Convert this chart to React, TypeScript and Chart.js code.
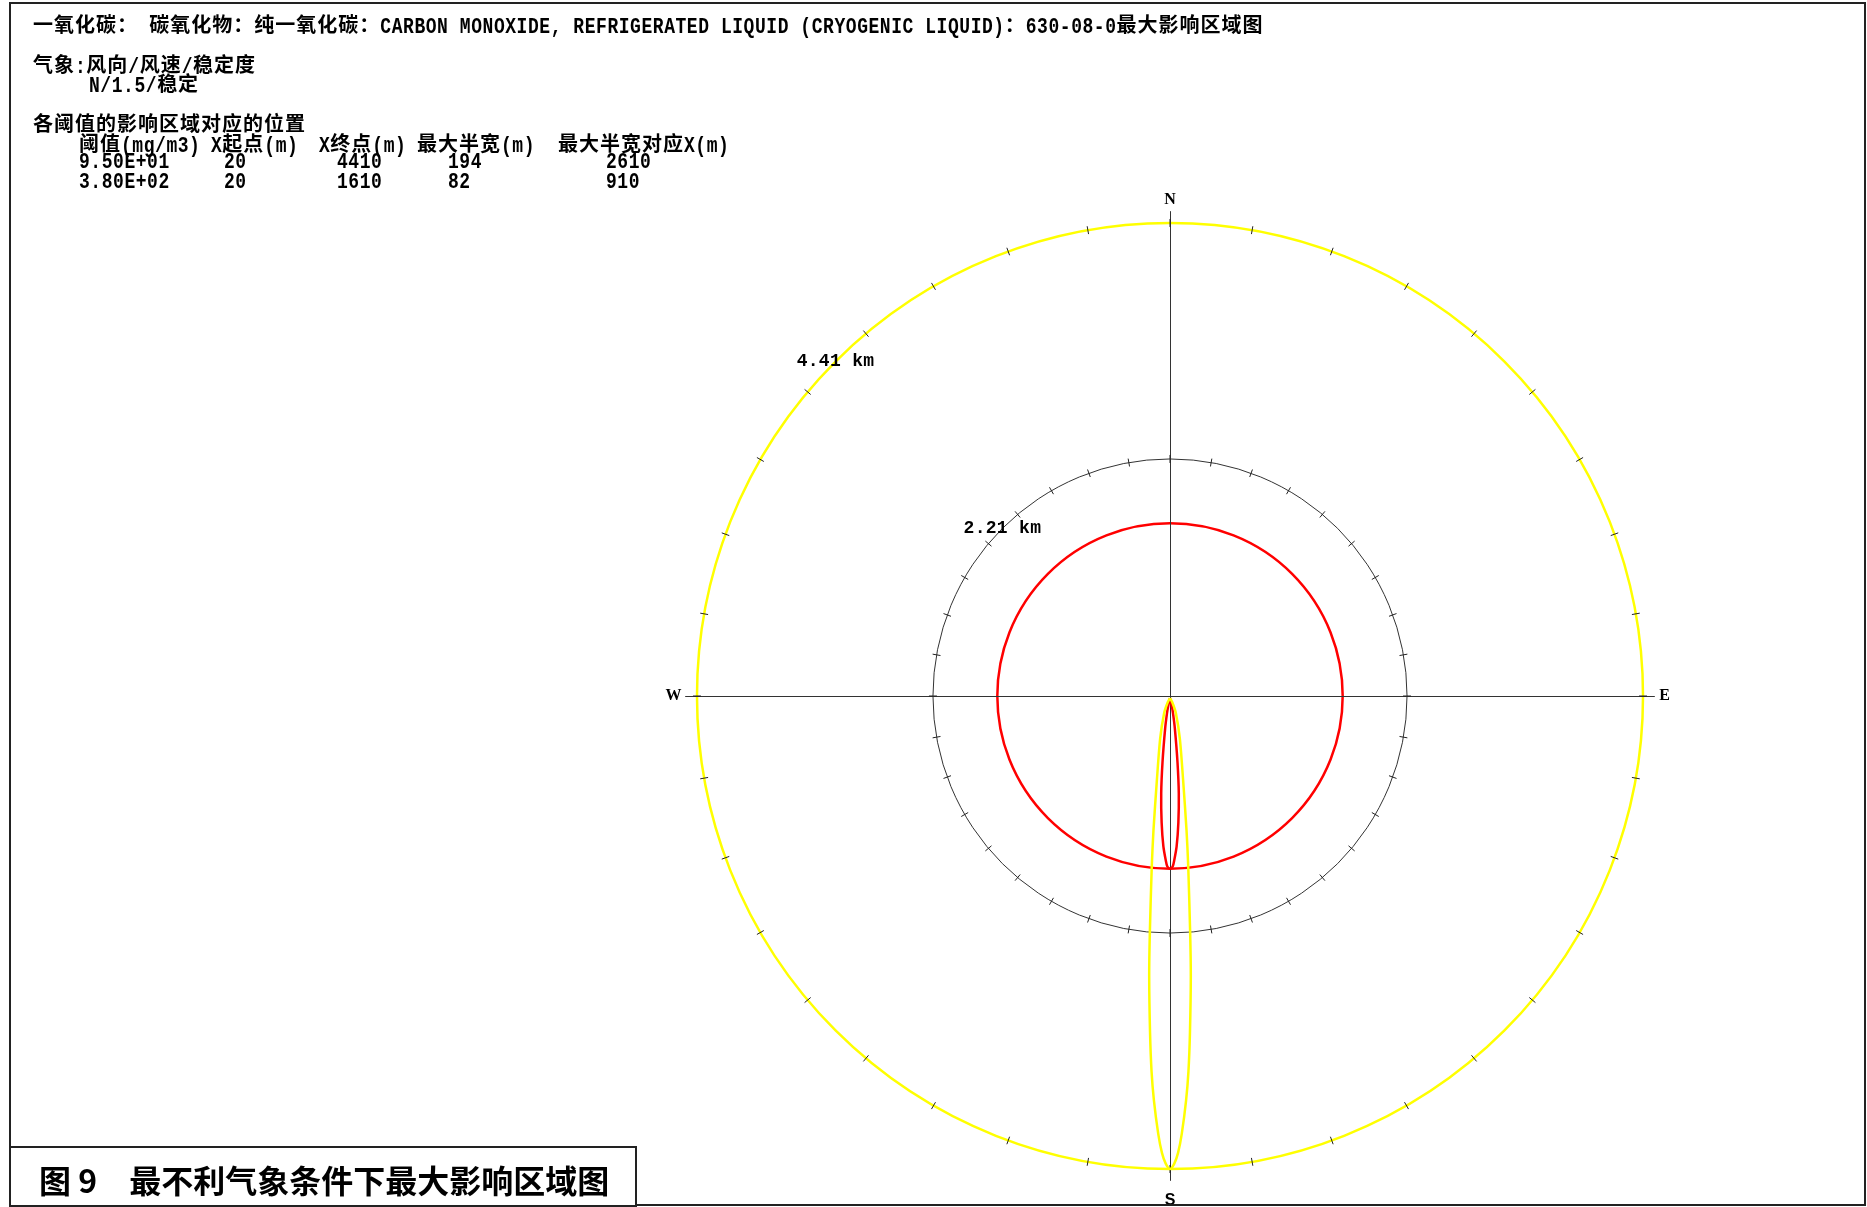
import React, { useEffect, useRef } from 'react';
import { Chart, registerables } from 'chart.js';

Chart.register(...registerables);

// ---------------- data ----------------
const TITLE =
  '一氧化碳： 碳氧化物：纯一氧化碳：CARBON MONOXIDE, REFRIGERATED LIQUID (CRYOGENIC LIQUID)：630-08-0最大影响区域图';
const WEATHER_HEADER = '气象:风向/风速/稳定度';
const WEATHER_VALUE = 'N/1.5/稳定';
const TABLE_TITLE = '各阈值的影响区域对应的位置';
const TABLE_HEADERS = ['阈值(mg/m3)', 'X起点(m)', 'X终点(m)', '最大半宽(m)', '最大半宽对应X(m)'];
const THRESHOLDS = ['9.50E+01', '3.80E+02'];
const X_START_M = [20, 20];
const X_END_M = [4410, 1610];
const MAX_HALF_WIDTH_M = [194, 82];
const MAX_HALF_WIDTH_X_M = [2610, 910];
const CAPTION = '图 9　最不利气象条件下最大影响区域图';

const RING_RADII_KM = [4.41, 2.21];
const RING_LABELS = ['4.41 km', '2.21 km'];
const RED_CIRCLE_KM = [1.61];
const COMPASS_LABELS = ['N', 'E', 'S', 'W'];
const COMPASS_BEARINGS = [0, 90, 180, 270];
const TICK_BEARINGS = [
  0, 10, 20, 30, 40, 50, 60, 70, 80, 90, 100, 110, 120, 130, 140, 150, 160, 170,
  180, 190, 200, 210, 220, 230, 240, 250, 260, 270, 280, 290, 300, 310, 320, 330, 340, 350,
];
const RING_LABEL_BEARING = 315;

// plume (downwind distance m, half width m) -- wind from N, plume goes S
const YELLOW_DIST_M = [20, 60, 160, 400, 780, 1250, 1590, 2210, 2610, 3140, 3500, 3770, 4080, 4260, 4360, 4410];
const YELLOW_HALF_M = [0, 22, 55, 92, 122, 154, 170, 188, 194, 186, 172, 150, 110, 75, 40, 0];
const RED_DIST_M = [20, 100, 160, 300, 620, 910, 1180, 1400, 1530, 1590, 1610];
const RED_HALF_M = [0, 18, 28, 45, 70, 82, 78, 62, 40, 25, 0];

// ---------------- layout ----------------
const PAGE_W = 1867;
const PAGE_H = 1207;
const CENTER_X = 1170;
const CENTER_Y = 696;
const PX_PER_KM = 107.26;
const AXIS_EXTENT_KM = 4.52;
const COMPASS_LABEL_KM = [4.63, 4.61, 4.70, 4.63];

const YELLOW = '#FFFF00';
const RED = '#FF0000';
const DARK = '#333333';

function plumeOutline(dist: number[], half: number[]) {
  const right = dist.map((d, i) => ({ x: half[i] / 1000, y: -d / 1000 }));
  const left = dist.map((d, i) => ({ x: -half[i] / 1000, y: -d / 1000 })).reverse();
  return [...right, ...left.slice(1)];
}

const rosePlugin = {
  id: 'rose',
  beforeDatasetsDraw(chart: any) {
    const { ctx, scales } = chart;
    const xs = scales.x;
    const ys = scales.y;
    const cx = xs.getPixelForValue(0);
    const cy = ys.getPixelForValue(0);
    const k = xs.getPixelForValue(1) - cx;
    ctx.save();
    RING_RADII_KM.forEach((r, i) => {
      ctx.beginPath();
      ctx.arc(cx, cy, r * k, 0, Math.PI * 2);
      ctx.strokeStyle = i === 0 ? YELLOW : DARK;
      ctx.lineWidth = i === 0 ? 2.5 : 1;
      ctx.stroke();
    });
    RED_CIRCLE_KM.forEach((r) => {
      ctx.beginPath();
      ctx.arc(cx, cy, r * k, 0, Math.PI * 2);
      ctx.strokeStyle = RED;
      ctx.lineWidth = 2.5;
      ctx.stroke();
    });
    ctx.strokeStyle = DARK;
    ctx.lineWidth = 1;
    ctx.beginPath();
    ctx.moveTo(xs.getPixelForValue(-AXIS_EXTENT_KM), cy + 0.5);
    ctx.lineTo(xs.getPixelForValue(AXIS_EXTENT_KM), cy + 0.5);
    ctx.moveTo(cx + 0.5, ys.getPixelForValue(AXIS_EXTENT_KM));
    ctx.lineTo(cx + 0.5, ys.getPixelForValue(-AXIS_EXTENT_KM));
    ctx.stroke();
    ctx.strokeStyle = '#222';
    ctx.lineWidth = 1;
    RING_RADII_KM.forEach((r) => {
      TICK_BEARINGS.forEach((b) => {
        const a = (b * Math.PI) / 180;
        const sx = Math.sin(a);
        const sy = -Math.cos(a);
        const rp = r * k;
        ctx.beginPath();
        ctx.moveTo(cx + sx * (rp - 4), cy + sy * (rp - 4));
        ctx.lineTo(cx + sx * (rp + 4), cy + sy * (rp + 4));
        ctx.stroke();
      });
    });
    ctx.restore();
  },
  afterDatasetsDraw(chart: any) {
    const { ctx, scales } = chart;
    const xs = scales.x;
    const ys = scales.y;
    ctx.save();
    ctx.fillStyle = '#000';
    ctx.textAlign = 'center';
    ctx.textBaseline = 'middle';
    COMPASS_LABELS.forEach((lab, i) => {
      const a = (COMPASS_BEARINGS[i] * Math.PI) / 180;
      const px = xs.getPixelForValue(Math.sin(a) * COMPASS_LABEL_KM[i]);
      const py = ys.getPixelForValue(Math.cos(a) * COMPASS_LABEL_KM[i]);
      ctx.font = lab === 'S' ? 'bold 16px "Liberation Sans"' : 'bold 16px "Liberation Serif"';
      ctx.fillText(lab, px, py);
    });
    ctx.font = 'bold 18px "Liberation Mono"';
    try {
      (ctx as any).letterSpacing = '0.3px';
    } catch (e) {}
    RING_RADII_KM.forEach((r, i) => {
      const a = (RING_LABEL_BEARING * Math.PI) / 180;
      const px = xs.getPixelForValue(Math.sin(a) * r);
      const py = ys.getPixelForValue(Math.cos(a) * r);
      ctx.fillText(RING_LABELS[i], px, py);
    });
    ctx.restore();
  },
};

const CJK_RE = /([\u2E80-\u9FFF\uFF00-\uFFEF\u3000-\u303F]+)/;

const cjkStyle: React.CSSProperties = {
  fontFamily: '"Noto Sans CJK SC", sans-serif',
  fontWeight: 700,
  fontSize: 20,
  letterSpacing: '1px',
};
const latinStyle: React.CSSProperties = {
  fontFamily: '"Liberation Mono", monospace',
  fontWeight: 700,
  fontSize: 18,
  letterSpacing: '0.55px',
  display: 'inline-block',
  transform: 'scaleY(1.2)',
  whiteSpace: 'pre',
};

function Mixed({ text }: { text: string }) {
  const parts = text.split(CJK_RE).filter((p) => p.length > 0);
  return (
    <>
      {parts.map((p, i) =>
        CJK_RE.test(p) ? (
          <span key={i} style={cjkStyle}>
            {p}
          </span>
        ) : (
          <span key={i} style={latinStyle}>
            {p}
          </span>
        )
      )}
    </>
  );
}

function Line({ x, cy, text }: { x: number; cy: number; text: string }) {
  return (
    <div
      style={{
        position: 'absolute',
        left: x,
        top: cy - 13,
        height: 26,
        lineHeight: '26px',
        whiteSpace: 'pre',
        color: '#000',
      }}
    >
      <Mixed text={text} />
    </div>
  );
}

const HEADER_X = [79, 211, 319, 417, 558];
const DATA_X = [79, 224, 337, 448, 606];
const HEADER_Y = 143;
const ROW_Y = [162, 182];

export default function App() {
  const ref = useRef<HTMLCanvasElement | null>(null);

  useEffect(() => {
    if (!ref.current) return;
    const chart = new Chart(ref.current, {
      type: 'scatter',
      data: {
        datasets: [
          {
            label: THRESHOLDS[0],
            data: plumeOutline(YELLOW_DIST_M, YELLOW_HALF_M),
            showLine: true,
            borderColor: YELLOW,
            borderWidth: 2.5,
            pointRadius: 0,
            tension: 0.25,
            fill: false,
          },
          {
            label: THRESHOLDS[1],
            data: plumeOutline(RED_DIST_M, RED_HALF_M),
            showLine: true,
            borderColor: RED,
            borderWidth: 2.5,
            pointRadius: 0,
            tension: 0.25,
            fill: false,
          },
        ],
      },
      options: {
        responsive: false,
        animation: false,
        devicePixelRatio: 1,
        layout: { padding: 0 },
        plugins: { legend: { display: false }, tooltip: { enabled: false } },
        events: [],
        scales: {
          x: {
            type: 'linear',
            display: false,
            min: -CENTER_X / PX_PER_KM,
            max: (PAGE_W - CENTER_X) / PX_PER_KM,
          },
          y: {
            type: 'linear',
            display: false,
            min: -(PAGE_H - CENTER_Y) / PX_PER_KM,
            max: CENTER_Y / PX_PER_KM,
          },
        },
      },
      plugins: [rosePlugin],
    });
    return () => chart.destroy();
  }, []);

  const rows = THRESHOLDS.map((t, i) => [
    t,
    String(X_START_M[i]),
    String(X_END_M[i]),
    String(MAX_HALF_WIDTH_M[i]),
    String(MAX_HALF_WIDTH_X_M[i]),
  ]);

  return (
    <div
      style={{
        position: 'absolute',
        left: 0,
        top: 0,
        width: PAGE_W,
        height: PAGE_H,
        overflow: 'hidden',
        background: '#fff',
      }}
    >
      <canvas
        ref={ref}
        width={PAGE_W}
        height={PAGE_H}
        style={{ position: 'absolute', left: 0, top: 0, width: PAGE_W, height: PAGE_H }}
      />
      <div
        style={{
          position: 'absolute',
          left: 9,
          top: 2,
          width: 1857,
          height: 1204,
          border: '2px solid #222',
          boxSizing: 'border-box',
          pointerEvents: 'none',
        }}
      />
      <Line x={33} cy={24} text={TITLE} />
      <Line x={33} cy={64} text={WEATHER_HEADER} />
      <Line x={89} cy={83} text={WEATHER_VALUE} />
      <Line x={33} cy={123} text={TABLE_TITLE} />
      {TABLE_HEADERS.map((h, i) => (
        <Line key={'h' + i} x={HEADER_X[i]} cy={HEADER_Y} text={h} />
      ))}
      {rows.map((r, ri) =>
        r.map((c, ci) => <Line key={'c' + ri + '-' + ci} x={DATA_X[ci]} cy={ROW_Y[ri]} text={c} />)
      )}
      <div
        style={{
          position: 'absolute',
          left: 9,
          top: 1146,
          width: 628,
          height: 61,
          border: '2px solid #222',
          boxSizing: 'border-box',
          background: '#fff',
        }}
      />
      <div
        style={{
          position: 'absolute',
          left: 39,
          top: 1156,
          height: 46,
          lineHeight: '46px',
          fontFamily: '"Noto Sans CJK SC", sans-serif',
          fontWeight: 700,
          fontSize: 32,
          whiteSpace: 'pre',
          color: '#000',
        }}
      >
        {CAPTION}
      </div>
    </div>
  );
}
